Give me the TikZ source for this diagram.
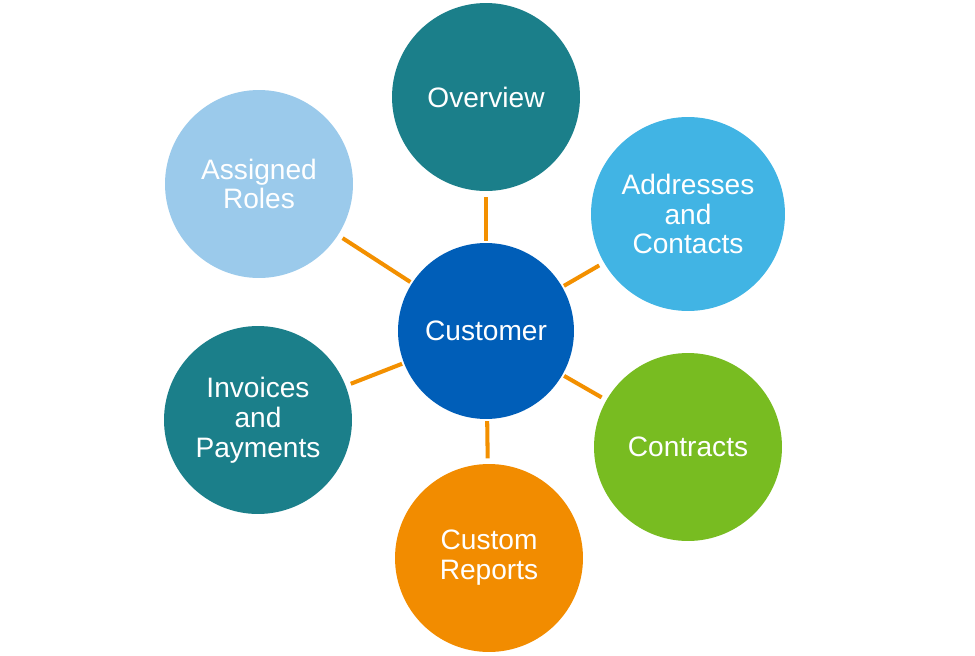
\documentclass[tikz,border=0pt]{standalone}
\usepackage{fontspec}
\setmainfont{Liberation Sans}
\usepackage{xcolor}
\usepackage{tikz}
\usetikzlibrary{shapes,positioning}

\definecolor{hubblue}{HTML}{005EB8}
\definecolor{tealc}{HTML}{1B7F8A}
\definecolor{paleblue}{HTML}{9BCAEB}
\definecolor{skyblue}{HTML}{41B4E4}
\definecolor{leafgreen}{HTML}{78BC21}
\definecolor{deeporange}{HTML}{F28C00}
\definecolor{linkorange}{HTML}{F39000}

\begin{document}
\begin{tikzpicture}[
    x=0.02cm,
    y=-0.02cm,
    bubble/.style={
        circle,
        draw=none,
        text=white,
        align=center,
        inner sep=0pt,
        minimum size=3.76cm,
        font=\fontsize{16}{17}\selectfont
    },
    hub/.style={
        bubble,
        fill=hubblue,
        minimum size=3.52cm
    },
    line/.style={
        draw, linkorange, line width=2.3pt,
        shorten <=1pt, shorten >=3pt
    }
]

    \useasboundingbox (0,0) rectangle (975,656);

    % Nodes
    \node [hub] (customer) at (486,331) {Customer};
    \node [bubble, fill=tealc] (overview) at (486,97) {Overview};
    \node [bubble, fill=skyblue, minimum size=3.88cm] (addresses) at (688,214) {Addresses\\and\\Contacts};
    \node [bubble, fill=leafgreen] (contracts) at (688,447) {Contracts};
    \node [bubble, fill=deeporange] (reports) at (489,558) {Custom\\Reports};
    \node [bubble, fill=tealc] (invoices) at (258,420) {Invoices\\and\\Payments};
    \node [bubble, fill=paleblue] (roles) at (259,184) {Assigned\\Roles};

    % Edges
    \path [line] (customer) -- (overview);
    \path [line] (customer) -- (addresses);
    \path [line] (customer) -- (contracts);
    \path [line] (customer) -- (reports);
    \path [line] (customer) -- (invoices);
    \path [line] (customer) -- (roles);

\end{tikzpicture}
\end{document}
